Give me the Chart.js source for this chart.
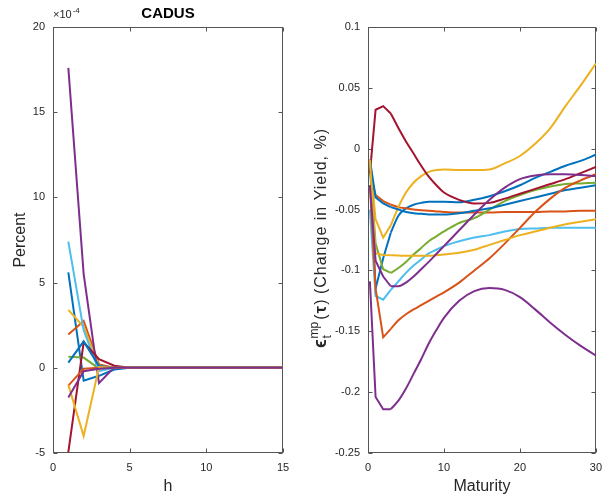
<!DOCTYPE html>
<html>
<head>
<meta charset="utf-8">
<script src="https://cdn.jsdelivr.net/npm/chart.js@4.4.0/dist/chart.umd.min.js"></script>
<style>
  body { margin: 0; background: #fff; }
  #wrap { position: relative; width: 610px; height: 504px; }
  .box { position: absolute; top: 0; height: 504px; }
</style>
</head>
<body>
<div id="wrap">
  <div class="box" style="left:0;width:300px"><canvas id="irf" width="300" height="504"></canvas></div>
  <div class="box" style="left:300px;width:310px"><canvas id="yield" width="310" height="504"></canvas></div>
</div>
<script>
// left panel: response by horizon h, values in units of 1e-4 percent
const horizons = [1, 2, 3, 4, 5, 6, 7, 8, 9, 10, 11, 12, 13, 14, 15];
const hBlue1   = [5.6, -0.75, -0.47, -0.1, 0, 0, 0, 0, 0, 0, 0, 0, 0, 0, 0];
const hOrange1 = [1.95, 2.75, 0.2, 0, 0, 0, 0, 0, 0, 0, 0, 0, 0, 0, 0];
const hYellow1 = [3.4, 2.4, 0.1, 0, 0, 0, 0, 0, 0, 0, 0, 0, 0, 0, 0];
const hPurple1 = [17.6, 5.5, -0.9, 0.05, 0, 0, 0, 0, 0, 0, 0, 0, 0, 0, 0];
const hGreen   = [0.65, 0.6, -0.05, 0, 0, 0, 0, 0, 0, 0, 0, 0, 0, 0, 0];
const hLBlue   = [7.4, 2.2, -0.2, 0, 0, 0, 0, 0, 0, 0, 0, 0, 0, 0, 0];
const hDRed    = [-4.95, 1.5, 0.5, 0.12, 0, 0, 0, 0, 0, 0, 0, 0, 0, 0, 0];
const hBlue2   = [0.3, 1.55, 0.1, 0, 0, 0, 0, 0, 0, 0, 0, 0, 0, 0, 0];
const hOrange2 = [-1.05, -0.05, 0, 0, 0, 0, 0, 0, 0, 0, 0, 0, 0, 0, 0];
const hYellow2 = [-1.0, -4.0, 0.05, 0, 0, 0, 0, 0, 0, 0, 0, 0, 0, 0, 0];
const hPurple2 = [-1.75, -0.2, -0.05, 0, 0, 0, 0, 0, 0, 0, 0, 0, 0, 0, 0];

// right panel: change in yield (%) by maturity
const maturities = [0.25, 1, 2, 3, 4, 5, 6, 7, 8, 9, 10, 12, 14, 16, 18, 20, 22, 24, 26, 28, 30];
const mBlue1   = [-0.009, -0.115, -0.090, -0.069, -0.055, -0.049, -0.046, -0.0445, -0.0435, -0.0435, -0.0435, -0.044, -0.042, -0.039, -0.035, -0.030, -0.024, -0.019, -0.014, -0.010, -0.005];
const mOrange1 = [-0.020, -0.038, -0.043, -0.046, -0.048, -0.049, -0.050, -0.0505, -0.051, -0.0515, -0.052, -0.0525, -0.0525, -0.0525, -0.052, -0.052, -0.052, -0.0515, -0.0515, -0.051, -0.051];
const mYellow1 = [-0.009, -0.058, -0.073, -0.063, -0.048, -0.036, -0.028, -0.0225, -0.019, -0.0175, -0.017, -0.0175, -0.0175, -0.017, -0.012, -0.006, 0.004, 0.017, 0.035, 0.052, 0.070];
const mPurple1 = [-0.109, -0.204, -0.214, -0.214, -0.207, -0.197, -0.185, -0.173, -0.160, -0.149, -0.139, -0.125, -0.117, -0.1145, -0.116, -0.122, -0.132, -0.143, -0.153, -0.162, -0.170];
const mGreen   = [-0.012, -0.078, -0.099, -0.102, -0.098, -0.093, -0.087, -0.0815, -0.076, -0.072, -0.068, -0.061, -0.057, -0.050, -0.043, -0.038, -0.034, -0.031, -0.029, -0.0285, -0.028];
const mLBlue   = [-0.050, -0.121, -0.124, -0.116, -0.109, -0.102, -0.096, -0.091, -0.086, -0.083, -0.080, -0.076, -0.073, -0.071, -0.068, -0.066, -0.0655, -0.065, -0.065, -0.065, -0.065];
const mDRed    = [-0.020, 0.032, 0.035, 0.029, 0.017, 0.006, -0.004, -0.014, -0.023, -0.030, -0.036, -0.042, -0.045, -0.0445, -0.041, -0.037, -0.033, -0.029, -0.025, -0.020, -0.015];
const mBlue2   = [-0.009, -0.040, -0.045, -0.048, -0.050, -0.052, -0.053, -0.0535, -0.054, -0.054, -0.054, -0.053, -0.051, -0.049, -0.046, -0.043, -0.040, -0.037, -0.034, -0.032, -0.030];
const mOrange2 = [-0.030, -0.115, -0.155, -0.148, -0.141, -0.136, -0.132, -0.1285, -0.125, -0.1215, -0.118, -0.110, -0.100, -0.090, -0.078, -0.065, -0.052, -0.041, -0.032, -0.026, -0.021];
const mYellow2 = [-0.009, -0.086, -0.0873, -0.0875, -0.0878, -0.088, -0.088, -0.088, -0.088, -0.0875, -0.087, -0.0855, -0.083, -0.079, -0.075, -0.071, -0.068, -0.065, -0.062, -0.060, -0.058];
const mPurple2 = [-0.030, -0.092, -0.105, -0.113, -0.113, -0.110, -0.105, -0.099, -0.093, -0.0865, -0.080, -0.067, -0.054, -0.042, -0.032, -0.025, -0.022, -0.021, -0.021, -0.0215, -0.0225];

// axis ticks
const hTicks = [0, 5, 10, 15];
const percentTicks = [-5, 0, 5, 10, 15, 20];
const maturityTicks = [0, 10, 20, 30];
const yieldTicks = [-0.25, -0.2, -0.15, -0.1, -0.05, 0, 0.05, 0.1];

// matlab default line colours
const colors = ['#0072BD', '#D95319', '#EDB120', '#7E2F8E', '#77AC30', '#4DBEEE', '#A2142F'];

const FONT = "'Liberation Sans', Arial, Helvetica, sans-serif";
const INK = '#262626';

function lineSet(points, i, smooth) {
  return {
    data: points,
    borderColor: colors[i % colors.length],
    borderWidth: 2,
    pointRadius: 0,
    fill: false,
    tension: 0,
    cubicInterpolationMode: smooth ? 'monotone' : 'default',
    order: -i
  };
}

function makeSets(xs, list) {
  return list.map((ys, i) => lineSet(xs.map((x, j) => ({x: x, y: ys[j]})), i, false));
}

// short end drawn straight, the rest of the curve smoothed
function makeCurveSets(xs, list, knot) {
  const out = [];
  list.forEach((ys, i) => {
    const pts = xs.map((x, j) => ({x: x, y: ys[j]}));
    out.push(lineSet(pts.filter(p => p.x <= knot), i, false));
    out.push(lineSet(pts.filter(p => p.x >= knot), i, true));
  });
  return out;
}

// box around the plot with inward ticks on all four sides
const framePlugin = {
  id: 'frame',
  beforeDatasetsDraw(chart) {
    const {ctx, chartArea: a, scales} = chart;
    const L = Math.round(a.left) + 0.5, R = Math.round(a.right) - 0.5;
    const T = Math.round(a.top) + 0.5, B = Math.round(a.bottom) - 0.5;
    ctx.save();
    ctx.strokeStyle = '#555';
    ctx.lineWidth = 1;
    ctx.strokeRect(L, T, R - L, B - T);
    ctx.beginPath();
    scales.x.ticks.forEach(t => {
      const px = Math.round(scales.x.getPixelForValue(t.value)) + 0.5;
      ctx.moveTo(px, B); ctx.lineTo(px, B - 4);
      ctx.moveTo(px, T); ctx.lineTo(px, T + 4);
    });
    scales.y.ticks.forEach(t => {
      const py = Math.round(scales.y.getPixelForValue(t.value)) + 0.5;
      ctx.moveTo(L, py); ctx.lineTo(L + 4, py);
      ctx.moveTo(R, py); ctx.lineTo(R - 4, py);
    });
    ctx.stroke();
    ctx.restore();
  }
};

function axisOpts(min, max, ticks, fit, title, titlePad) {
  return {
    type: 'linear',
    min: min,
    max: max,
    afterBuildTicks: s => { s.ticks = ticks.map(v => ({value: v})); },
    afterFit: fit,
    grid: {display: false, drawTicks: false},
    border: {display: false},
    ticks: {
      autoSkip: false,
      maxRotation: 0,
      padding: 8,
      color: INK,
      font: {family: FONT, size: 11},
      callback: v => String(v)
    },
    title: title ? {
      display: true,
      text: title,
      color: INK,
      font: {family: FONT, size: 16},
      padding: titlePad
    } : {display: false}
  };
}

// left: CADUS title and exponent marker
const leftText = {
  id: 'leftText',
  afterDraw(chart) {
    const {ctx, chartArea: a} = chart;
    ctx.save();
    ctx.fillStyle = '#000';
    ctx.font = 'bold 15px ' + FONT;
    ctx.textAlign = 'center';
    ctx.textBaseline = 'alphabetic';
    ctx.fillText('CADUS', (a.left + a.right) / 2, 18);
    ctx.fillStyle = INK;
    ctx.textAlign = 'left';
    ctx.font = '11px ' + FONT;
    ctx.fillText('\u00d710', a.left, 18);
    const w = ctx.measureText('\u00d710').width;
    ctx.font = '8px ' + FONT;
    ctx.fillText('-4', a.left + w + 1, 13);
    ctx.restore();
  }
};

// right: rotated y label with sub/superscripts
const rightText = {
  id: 'rightText',
  afterDraw(chart) {
    const {ctx, chartArea: a} = chart;
    const runs = [
      {t: '\u03f5', f: 'bold 18px ' + FONT, dy: 0, gap: 1},
      {t: 'mp', f: '12px ' + FONT, dy: -8, sub: 't', gap: 2},
      {t: '(', f: '16px ' + FONT, dy: 0, gap: 1},
      {t: '\u03c4', f: 'bold 17px ' + FONT, dy: 0, gap: 1},
      {t: ')', f: '16px ' + FONT, dy: 0, gap: 0},
      {t: ' (Change in Yield, %)', f: '16px ' + FONT, dy: 0, gap: 0, sp: '1px'}
    ];
    ctx.save();
    let total = 0;
    runs.forEach(r => {
      ctx.font = r.f;
      ctx.letterSpacing = r.sp || '0px';
      r.w = ctx.measureText(r.t).width;
      total += r.w + r.gap;
    });
    ctx.translate(a.left - 42, (a.top + a.bottom) / 2 - 2);
    ctx.rotate(-Math.PI / 2);
    ctx.fillStyle = INK;
    ctx.textBaseline = 'alphabetic';
    ctx.textAlign = 'left';
    let u = -total / 2;
    runs.forEach(r => {
      ctx.font = r.f;
      ctx.letterSpacing = r.sp || '0px';
      ctx.fillText(r.t, u, r.dy);
      if (r.sub) ctx.fillText(r.sub, u, 5);
      u += r.w + r.gap;
    });
    ctx.restore();
  }
};

Chart.defaults.animation = false;

new Chart(document.getElementById('irf'), {
  type: 'line',
  data: {
    datasets: makeSets(horizons, [hBlue1, hOrange1, hYellow1, hPurple1, hGreen, hLBlue, hDRed, hBlue2, hOrange2, hYellow2, hPurple2])
  },
  options: {
    responsive: false,
    devicePixelRatio: 1,
    layout: {padding: {left: 0, right: 17, top: 27, bottom: 0}},
    plugins: {legend: {display: false}, tooltip: {enabled: false}},
    scales: {
      x: axisOpts(0, 15, hTicks, s => { s.height = 51; }, 'h', {top: 0, bottom: 8}),
      y: axisOpts(-5, 20, percentTicks, s => { s.width = 53; }, 'Percent', {top: 11, bottom: 0})
    }
  },
  plugins: [framePlugin, leftText]
});

new Chart(document.getElementById('yield'), {
  type: 'line',
  data: {
    datasets: makeCurveSets(maturities, [mBlue1, mOrange1, mYellow1, mPurple1, mGreen, mLBlue, mDRed, mBlue2, mOrange2, mYellow2, mPurple2], 3)
  },
  options: {
    responsive: false,
    devicePixelRatio: 1,
    layout: {padding: {left: 0, right: 11, top: 27, bottom: 0}},
    plugins: {legend: {display: false}, tooltip: {enabled: false}},
    scales: {
      x: axisOpts(0, 30, maturityTicks, s => { s.height = 51; }, 'Maturity', {top: 0, bottom: 8}),
      y: axisOpts(-0.25, 0.1, yieldTicks, s => { s.width = 68; }, null, null)
    }
  },
  plugins: [framePlugin, rightText]
});
</script>
</body>
</html>
